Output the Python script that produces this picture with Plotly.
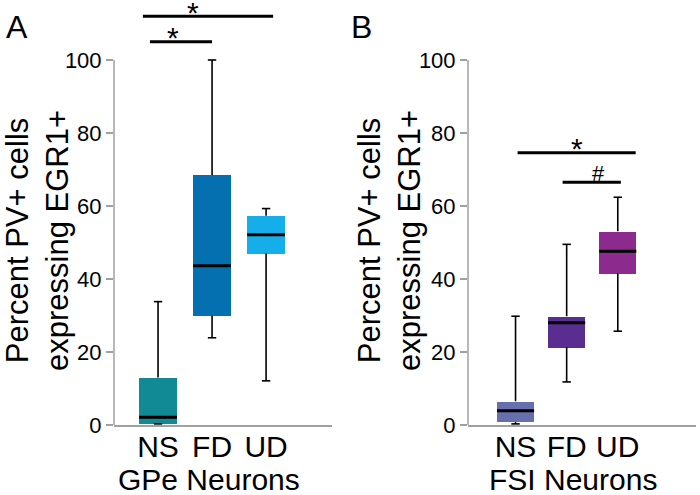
import plotly.graph_objects as go

groups = ["NS", "FD", "UD"]

gpe_min = [0.3, 23.9, 12.1]
gpe_q1 = [0.5, 29.9, 47.0]
gpe_med = [2.1, 43.6, 52.1]
gpe_q3 = [13.0, 68.5, 57.3]
gpe_max = [33.8, 100.0, 59.3]
gpe_colors = ["#128a95", "#0570b0", "#15aeea"]

fsi_min = [0.3, 11.8, 25.7]
fsi_q1 = [0.8, 21.3, 41.5]
fsi_med = [3.9, 28.0, 47.6]
fsi_q3 = [6.5, 29.8, 53.1]
fsi_max = [29.8, 49.5, 62.4]
fsi_colors = ["#6670ad", "#5a2e91", "#8d2a8e"]

# significance brackets: line start/end, line level, label position, label
gpe_sig_x0 = [-0.28, -0.15]
gpe_sig_x1 = [2.13, 1.0]
gpe_sig_y = [112, 105]
gpe_sig_lx = [0.65, 0.28]
gpe_sig_lbl = ["*", "*"]

fsi_sig_x0 = [0.04, 0.92]
fsi_sig_x1 = [2.35, 2.06]
fsi_sig_y = [74.6, 66.5]
fsi_sig_lx = [1.2, 1.62]
fsi_sig_lbl = ["*", "#"]

yticks = [0, 20, 40, 60, 80, 100]
ymax_axis = 100
yrange = [0, 116]

FONT = "Liberation Sans, Arial, sans-serif"

W, H = 700, 495


def px(x):
    return x / W


def py(y):
    return 1 - y / H


fig = go.Figure()


def add_panel(xa, ya, mins, q1, med, q3, mx, colors, bw, capsize, medsize,
              sx0, sx1, sy, slx, slbl):
    xs = list(range(len(groups)))
    wx, wy = [], []
    for i in xs:
        wx += [i, i, None, i, i, None]
        wy += [q3[i], mx[i], None, q1[i], mins[i], None]
    fig.add_trace(go.Scatter(x=wx, y=wy, mode="lines", line=dict(color="black", width=1.6),
                             xaxis=xa, yaxis=ya, showlegend=False, hoverinfo="skip"))
    fig.add_trace(go.Bar(x=xs, y=[q3[i] - q1[i] for i in xs], base=q1, width=bw,
                         marker=dict(color=colors, line=dict(width=0)),
                         xaxis=xa, yaxis=ya, showlegend=False))
    fig.add_trace(go.Scatter(x=xs + xs, y=mx + mins, mode="markers",
                             marker=dict(symbol="line-ew", size=capsize,
                                         line=dict(color="black", width=1.6)),
                             xaxis=xa, yaxis=ya, showlegend=False, hoverinfo="skip",
                             cliponaxis=False))
    fig.add_trace(go.Scatter(x=xs, y=med, mode="markers",
                             marker=dict(symbol="line-ew", size=medsize,
                                         line=dict(color="black", width=3)),
                             xaxis=xa, yaxis=ya, showlegend=False, hoverinfo="skip",
                             cliponaxis=False))
    for a, b, y, lx, t in zip(sx0, sx1, sy, slx, slbl):
        fig.add_trace(go.Scatter(x=[a, b], y=[y, y], mode="lines",
                                 line=dict(color="black", width=3),
                                 xaxis=xa, yaxis=ya, showlegend=False, hoverinfo="skip"))
        fig.add_annotation(x=lx, y=y, xref=xa, yref=ya, text=t, showarrow=False,
                           yanchor="middle", yshift=4 if t == "*" else 9,
                           font=dict(size=30 if t == "*" else 22, color="black", family=FONT))
    fig.add_shape(type="line", xref=xa + " domain", yref=ya, x0=0, x1=0, y0=0, y1=ymax_axis,
                  line=dict(color="#a0a0a0", width=1.5))


add_panel("x", "y", gpe_min, gpe_q1, gpe_med, gpe_q3, gpe_max, gpe_colors, 0.70, 6, 27,
          gpe_sig_x0, gpe_sig_x1, gpe_sig_y, gpe_sig_lx, gpe_sig_lbl)
add_panel("x2", "y2", fsi_min, fsi_q1, fsi_med, fsi_q3, fsi_max, fsi_colors, 0.72, 6, 26.5,
          fsi_sig_x0, fsi_sig_x1, fsi_sig_y, fsi_sig_lx, fsi_sig_lbl)

ydom = [py(425), py(425 - yrange[1] * 3.65)]
yax = dict(range=yrange, tickvals=yticks, showline=False, automargin=False,
           ticks="outside", tickcolor="#a0a0a0",
           ticklen=7, tickwidth=1.5, showgrid=False, zeroline=False,
           tickfont=dict(size=22, color="black", family=FONT), domain=ydom)
xax = dict(tickvals=[0, 1, 2], ticktext=groups, showline=True, linecolor="#a0a0a0",
           linewidth=1.5, ticks="", showgrid=False, zeroline=False, automargin=False,
           ticklabelstandoff=-6,
           tickfont=dict(size=30, color="black", family=FONT))

fig.update_layout(
    width=W, height=H, margin=dict(l=0, r=0, t=0, b=0),
    paper_bgcolor="white", plot_bgcolor="white", bargap=0,
    xaxis=dict(xax, domain=[px(114), px(332)], range=[-0.815, 3.22], anchor="y"),
    yaxis=dict(yax, anchor="x"),
    xaxis2=dict(xax, domain=[px(468), px(696)], range=[-0.93, 3.53], anchor="y2"),
    yaxis2=dict(yax, anchor="x2"),
)

TFONT = dict(size=31, color="black", family=FONT)
ytitle = "Percent PV+ cells<br>expressing EGR1+"
for xc in (37, 389):
    fig.add_annotation(x=px(xc), y=py(241), xref="paper", yref="paper", text=ytitle,
                       textangle=-90, showarrow=False, xanchor="center", yanchor="middle",
                       font=TFONT)
for xc, t in ((209, "GPe Neurons"), (573, "FSI Neurons")):
    fig.add_annotation(x=px(xc), y=py(479), xref="paper", yref="paper", text=t,
                       showarrow=False, xanchor="center", yanchor="middle",
                       font=dict(size=30, color="black", family=FONT))

fig.add_annotation(x=px(17), y=py(27), xref="paper", yref="paper", text="A",
                   showarrow=False, xanchor="center", yanchor="middle",
                   font=dict(size=32, color="black", family=FONT))
fig.add_annotation(x=px(361), y=py(27), xref="paper", yref="paper", text="B",
                   showarrow=False, xanchor="center", yanchor="middle",
                   font=dict(size=32, color="black", family=FONT))

fig.write_html("out.html", config={"displayModeBar": False},
               post_script="document.body.style.margin='0px';")
